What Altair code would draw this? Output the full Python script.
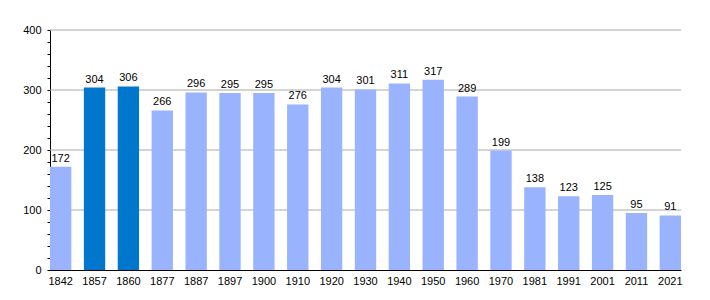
import altair as alt
import pandas as pd

years = ["1842", "1857", "1860", "1877", "1887", "1897", "1900", "1910", "1920", "1930",
         "1940", "1950", "1960", "1970", "1981", "1991", "2001", "2011", "2021"]
population = [172, 304, 306, 266, 296, 295, 295, 276, 304, 301,
              311, 317, 289, 199, 138, 123, 125, 95, 91]
highlight = ["no", "yes", "yes"] + ["no"] * 16
major_grid = [100, 200, 300, 400]
y_ticks = list(range(0, 401, 20))

df = pd.DataFrame({"year": years, "pop": population, "hl": highlight})
gdf = pd.DataFrame({"v": major_grid})

FONT = "Liberation Sans"

xaxis = alt.Axis(labelAngle=0, labelFont=FONT, labelFontSize=11, labelColor="#000",
                 ticks=False, domainColor="#000", labelPadding=5, title=None)
xscale = alt.Scale(paddingInner=0.37, paddingOuter=0.0)
yscale = alt.Scale(domain=[0, 400], nice=False)

y = alt.Y("pop:Q", title=None, scale=yscale,
          axis=alt.Axis(values=y_ticks,
                        labelExpr="datum.value % 100 == 0 ? datum.label : ''",
                        labelOverlap=False,
                        labelFont=FONT, labelFontSize=11, labelColor="#000",
                        gridColor="#e3e3e3", gridWidth=1, tickColor="#000", tickSize=3,
                        domainColor="#000", labelPadding=6))

grid = alt.Chart(gdf).mark_rule(color="#a9a9a9", strokeWidth=1).encode(
    y=alt.Y("v:Q", scale=yscale, axis=None)
)

bars = alt.Chart(df).mark_bar().encode(
    x=alt.X("year:N", sort=None, scale=xscale, axis=xaxis),
    y=y,
    color=alt.Color("hl:N", scale=alt.Scale(domain=["no", "yes"], range=["#99b3ff", "#0077cc"]),
                    legend=None),
)

labels = alt.Chart(df).mark_text(baseline="bottom", dy=-3, font=FONT, fontSize=11, color="#000").encode(
    x=alt.X("year:N", sort=None, scale=xscale, axis=xaxis),
    y=alt.Y("pop:Q", scale=yscale, axis=None),
    text="pop:Q",
)

chart = alt.layer(grid, bars, labels).resolve_axis(y="independent").properties(
    width=631, height=240,
    autosize=alt.AutoSizeParams(type="none"),
    padding={"left": 50, "top": 30, "right": 29, "bottom": 30},
).configure_view(stroke="transparent", strokeWidth=0, fill="#ffffff")

chart.save("out.html", embed_options={"renderer": "svg", "actions": False})
